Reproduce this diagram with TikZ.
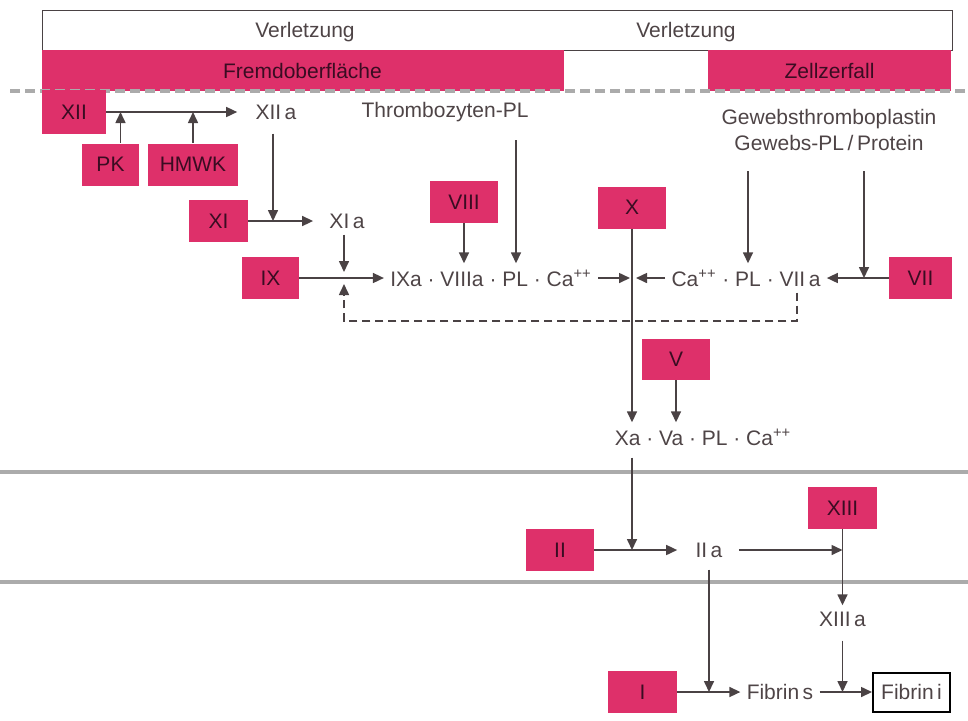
\documentclass[tikz,border=0pt]{standalone}
\usepackage{fontspec}
\setmainfont{Liberation Sans}
\usetikzlibrary{positioning,calc,arrows.meta}
\definecolor{fak}{HTML}{DE306A}
\definecolor{fakt}{HTML}{3A0C22}
\definecolor{txt}{HTML}{4E4446}
\definecolor{lin}{HTML}{4A4244}
\definecolor{sepc}{HTML}{ABABAB}
\tikzset{
  fbox/.style={fill=fak, text=fakt, inner sep=0pt, minimum height=21pt},
  lbl/.style={text=txt, inner sep=3pt},
  arr/.style={draw=lin, line width=0.8pt, -{Triangle[length=5.5pt, width=5pt]}},
  darr/.style={arr, dash pattern=on 4pt off 2.5pt},
  sepl/.style={draw=sepc, line width=2pt}}
\begin{document}
\begin{tikzpicture}[x=0.5pt, y=-0.5pt, font=\fontsize{10.5}{13}\selectfont]
\useasboundingbox (0,0) rectangle (968,720);
\draw[sepl] (0,472) -- (968,472);
\draw[sepl] (0,582) -- (968,582);
\node[draw=lin, line width=0.5pt, minimum width=455pt, minimum height=20pt, inner sep=0pt] (verl) at (497,30) {};
\node[lbl] (verla) at (305,32) {Verletzung};
\node[lbl] (verlb) at (686,32) {Verletzung};
\node[fbox, minimum width=261pt, minimum height=20.5pt] (fremd) at (302.5,70.5) {Fremdoberfläche};
\node[fbox, minimum width=121.5pt, minimum height=20.5pt] (zell) at (829.5,70.5) {Zellzerfall};
\draw[sepl, dash pattern=on 5pt off 2.5pt] (10,91) -- (968,91);
\node[fbox, minimum width=32pt, minimum height=22pt] (xii) at (74,112) {XII};
\node[lbl] (xiia) at (276,112) {XII\,a};
\node[fbox, minimum width=28.5pt] (pk) at (110.5,164.5) {PK};
\node[fbox, minimum width=45pt] (hmwk) at (193,164.5) {HMWK};
\node[lbl] (thrpl) at (445,112) {Thrombozyten-PL};
\node[lbl, align=center] (gew) at (829,130) {Gewebsthromboplastin\\Gewebs-PL\,/\,Protein};
\node[fbox, minimum width=29.5pt] (xi) at (218.5,221) {XI};
\node[lbl] (xia) at (347,221) {XI\,a};
\node[fbox, minimum width=34pt] (viii) at (464,202) {VIII};
\node[fbox, minimum width=34pt] (x) at (632,207.5) {X};
\node[fbox, minimum width=28.5pt] (ix) at (270.5,278) {IX};
\node[lbl] (ixc) at (491,278) {IXa · VIIIa · PL · Ca\textsuperscript{++}};
\node[fbox, minimum width=31.5pt] (vii) at (920.5,278) {VII};
\node[lbl] (vic) at (746,278) {Ca\textsuperscript{++} · PL · VII\,a};
\node[fbox, minimum width=34pt, minimum height=20.5pt] (v) at (676,359.5) {V};
\node[lbl] (xac) at (703,437) {Xa · Va · PL · Ca\textsuperscript{++}};
\node[fbox, minimum width=34pt] (ii) at (560,550) {II};
\node[lbl] (iia) at (709,550) {II\,a};
\node[fbox, minimum width=34.5pt] (xiii) at (842.5,508) {XIII};
\node[lbl] (xiiia) at (842.5,619) {XIII\,a};
\node[fbox, minimum width=34.5pt] (i) at (642.5,692) {I};
\node[lbl] (fibs) at (780,692) {Fibrin\,s};
\node[draw=black, line width=1pt, text=txt, minimum width=38.5pt, minimum height=19.5pt, inner sep=0pt] (fibi) at (911.5,692) {Fibrin\,i};
\draw[arr] (xii.east) -- ([xshift=-6pt]xiia.west);
\draw[arr] ([xshift=5pt]pk.north) -- ([xshift=5pt]pk.north |- xii.east);
\draw[arr] (hmwk.north) -- (hmwk.north |- xii.east);
\draw[arr, shorten <=4pt] ([xshift=-1.5pt]xiia.south) -- ([xshift=-1.5pt]xiia.south |- xi.east);
\draw[arr] (xi.east) -- ([xshift=-5pt]xia.west);
\draw[arr, shorten >=3pt] ([xshift=-1.5pt]xia.south) -- ([xshift=-1.5pt]xia.south |- ix.east);
\draw[arr] (ix.east) -- (ixc.west);
\draw[arr] (viii.south) -- (viii.south |- ixc.north);
\draw[arr, shorten <=6pt] ([xshift=35.5pt]thrpl.south) -- ([xshift=35.5pt]thrpl.south |- ixc.north);
\draw[arr, shorten <=7pt] ([xshift=-40.5pt]gew.south) -- ([xshift=-40.5pt]gew.south |- vic.north);
\draw[arr, shorten <=7pt] ([xshift=17.5pt]gew.south) -- ([xshift=17.5pt]gew.south |- vii.west);
\draw[arr] (x.south) -- (x.south |- xac.north);
\draw[arr, shorten >=1pt] (ixc.east) -- (ixc.east -| x.south);
\draw[arr, shorten >=2pt] (vic.west) -- (vic.west -| x.south);
\draw[arr] (vii.west) -- (vic.east);
\draw[darr, shorten >=3pt] ([xshift=25.5pt]vic.south) |- ([yshift=-21.5pt,xshift=-1.5pt]xia.south |- ix.east) -- ([xshift=-1.5pt]xia.south |- ix.east);
\draw[arr] (v.south) -- (v.south |- xac.north);
\draw[arr, shorten <=3pt] (x.south |- xac.south) -- (x.south |- ii.east);
\draw[arr] (ii.east) -- ([xshift=-6pt]iia.west);
\draw[arr] ([xshift=5pt]iia.east) -- (iia.east -| xiii.south);
\draw[arr] (xiii.south) -- (xiiia.north);
\draw[arr, shorten <=3pt] (iia.south) -- (iia.south |- i.east);
\draw[arr] (i.east) -- (fibs.west);
\draw[arr] (fibs.east) -- (fibi.west);
\draw[arr, shorten <=4pt] (xiiia.south) -- (xiiia.south |- fibs.east);
\end{tikzpicture}
\end{document}
